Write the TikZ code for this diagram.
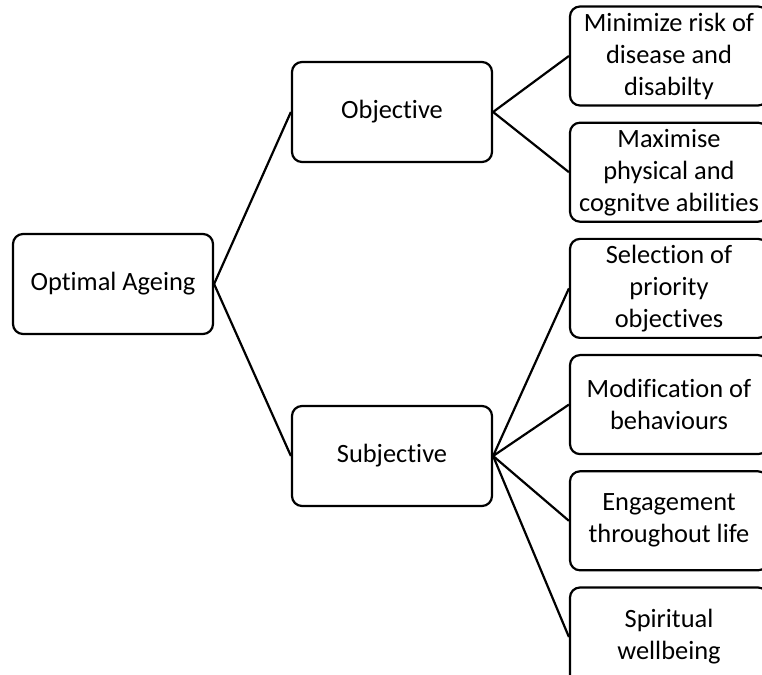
\documentclass[tikz,border=0pt]{standalone}
\usepackage{fontspec}
\setmainfont{Carlito}[Ligatures=NoCommon]
\usepackage{tikz}
\usetikzlibrary{positioning}
\newcommand{\BoxFont}{\fontsize{26.4}{32}\selectfont}

\begin{document}
\begin{tikzpicture}[x=1pt, y=1pt,
		box/.style={draw, line width=2.2pt, rounded corners=10pt, align=center,
			inner sep=0pt, minimum width=200pt, minimum height=100pt, font=\BoxFont},
		leaf/.style={box, minimum width=198pt, minimum height=99pt},
		link/.style={line width=2.2pt},
		node distance=15pt]
		\useasboundingbox (0,0) rectangle (762,674);

		% Define nodes
		\node[box] (age) at (113,390) {Optimal Ageing};
		\node[box] (obj) at (392,562) {Objective};
		\node[box] (subj) at (392,218) {Subjective};

		\node[leaf] (risk) at (669,618) {Minimize risk of\\disease and\\disabilty};
		\node[leaf, below=of risk] (phys) {Maximise\\physical and\\cognitve abilities};
		\node[leaf, below=of phys] (sel) {Selection of\\priority\\objectives};
		\node[leaf, below=of sel] (mod) {Modification of\\behaviours};
		\node[leaf, below=of mod] (eng) {Engagement\\throughout life};
		\node[leaf, below=of eng] (spir) {Spiritual\\wellbeing};

		% Connect the nodes
		\draw[link] (obj.west) -- (age.east) -- (subj.west);
		\draw[link] (risk.west) -- (obj.east) -- (phys.west);
		\foreach \n in {sel,mod,eng,spir}
			\draw[link] (subj.east) -- (\n.west);
	\end{tikzpicture}
\end{document}
